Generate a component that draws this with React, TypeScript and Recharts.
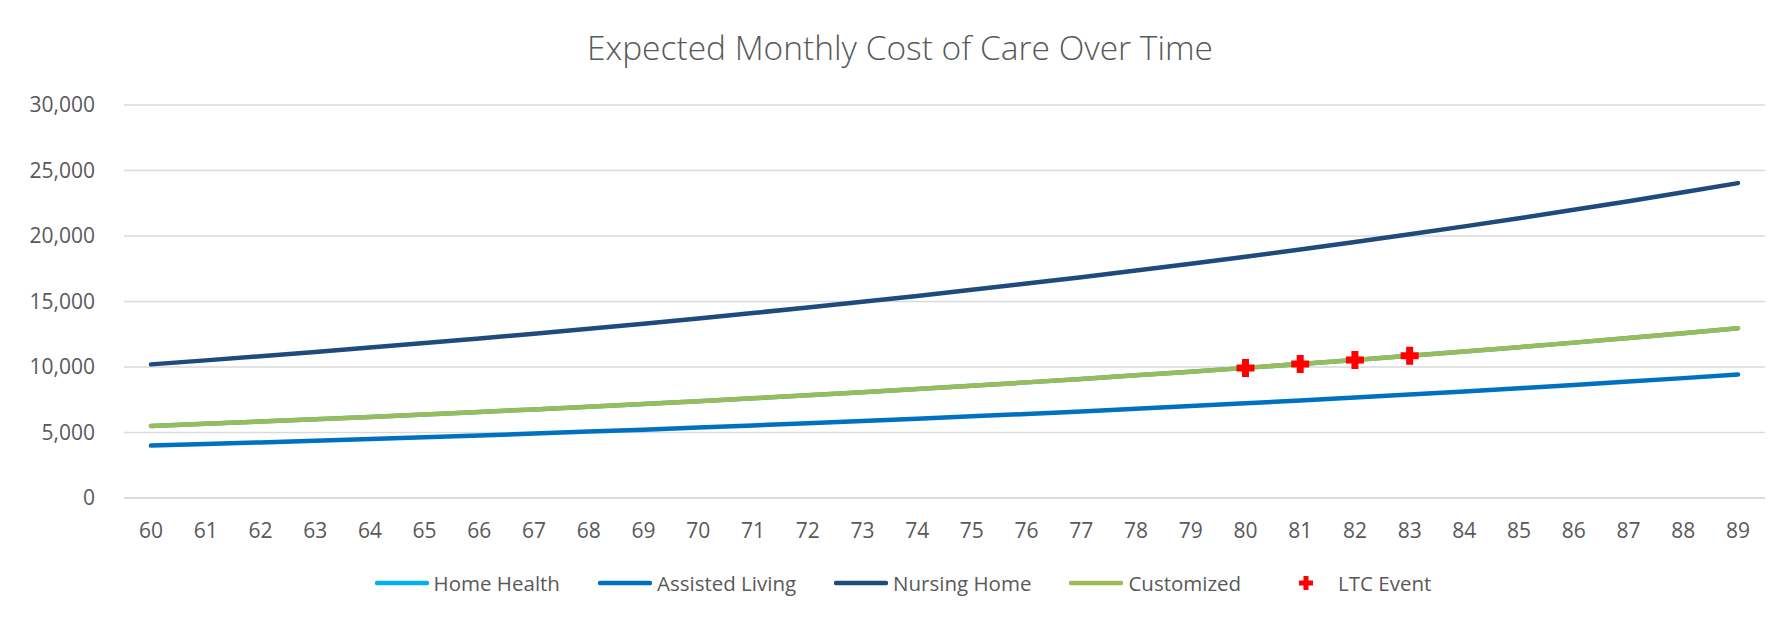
import React from 'react';
import { LineChart, Line, XAxis, YAxis, CartesianGrid, Legend } from 'recharts';

const ages = [
  60, 61, 62, 63, 64, 65, 66, 67, 68, 69, 70, 71, 72, 73, 74,
  75, 76, 77, 78, 79, 80, 81, 82, 83, 84, 85, 86, 87, 88, 89,
];

const homeHealth = [
  5500, 5665, 5835, 6010, 6190, 6376, 6567, 6764, 6967, 7176,
  7392, 7613, 7842, 8077, 8319, 8569, 8826, 9091, 9363, 9644,
  9933, 10231, 10538, 10854, 11180, 11515, 11861, 12217, 12583, 12961,
];

const assistedLiving = [
  4000, 4120, 4244, 4371, 4502, 4637, 4776, 4919, 5067, 5219,
  5376, 5537, 5703, 5874, 6050, 6232, 6419, 6611, 6810, 7014,
  7224, 7441, 7664, 7894, 8131, 8375, 8626, 8885, 9151, 9426,
];

const nursingHome = [
  10200, 10506, 10821, 11146, 11480, 11825, 12179, 12545, 12921, 13309,
  13708, 14119, 14543, 14979, 15428, 15891, 16368, 16859, 17365, 17886,
  18422, 18975, 19544, 20131, 20735, 21357, 21997, 22657, 23337, 24037,
];

const customized = [
  5500, 5665, 5835, 6010, 6190, 6376, 6567, 6764, 6967, 7176,
  7392, 7613, 7842, 8077, 8319, 8569, 8826, 9091, 9363, 9644,
  9933, 10231, 10538, 10854, 11180, 11515, 11861, 12217, 12583, 12961,
];

// LTC event markers sit on the Customized curve at ages 80-83
const ltcEvent: (number | null)[] = [
  null, null, null, null, null, null, null, null, null, null,
  null, null, null, null, null, null, null, null, null, null,
  9933, 10231, 10538, 10854, null, null, null, null, null, null,
];

const yTicks = [0, 5000, 10000, 15000, 20000, 25000, 30000];

const data = ages.map((age, i) => ({
  age,
  homeHealth: homeHealth[i],
  assistedLiving: assistedLiving[i],
  nursingHome: nursingHome[i],
  customized: customized[i],
  ltcEvent: ltcEvent[i],
}));

const TEXT = '#595959';
const GRID = '#d9d9d9';
const FONT = '"Open Sans", sans-serif';

const series = [
  { key: 'homeHealth', name: 'Home Health', color: '#00b0f0' },
  { key: 'assistedLiving', name: 'Assisted Living', color: '#0070c0' },
  { key: 'nursingHome', name: 'Nursing Home', color: '#1f4a7c' },
  { key: 'customized', name: 'Customized', color: '#9bbb59' },
];

function plusPath(cx: number, cy: number, size: number, arm: number) {
  const h = size / 2;
  const a = arm / 2;
  return `M${cx - a},${cy - h}H${cx + a}V${cy - a}H${cx + h}V${cy + a}H${cx + a}V${cy + h}H${cx - a}V${cy + a}H${cx - h}V${cy - a}H${cx - a}Z`;
}

const PlusDot = (props: any) => {
  const { cx, cy, value, index } = props;
  if (value == null || cx == null || cy == null) return <g key={`p-${index}`} />;
  return <path key={`p-${index}`} d={plusPath(cx, cy, 18, 7)} fill="#ff0000" />;
};

const LegendContent = () => (
  <div
    style={{
      display: 'flex',
      justifyContent: 'center',
      alignItems: 'center',
      height: 30,
      paddingLeft: 14,
      gap: 38,
      fontFamily: FONT,
      fontSize: 20.5,
      color: TEXT,
    }}
  >
    {series.map((s) => (
      <div key={s.key} style={{ display: 'flex', alignItems: 'center' }}>
        <svg width={54} height={10} style={{ marginRight: 5 }}>
          <line x1={2} y1={5} x2={52} y2={5} stroke={s.color} strokeWidth={4.5} strokeLinecap="round" />
        </svg>
        <span>{s.name}</span>
      </div>
    ))}
    <div style={{ display: 'flex', alignItems: 'center' }}>
      <svg width={54} height={16} style={{ marginRight: 5 }}>
        <path d={plusPath(27, 8, 14, 5)} fill="#ff0000" />
      </svg>
      <span>LTC Event</span>
    </div>
  </div>
);

export default function App() {
  return (
    <div
      style={{
        position: 'relative',
        width: 1792,
        height: 619,
        margin: -8,
        overflow: 'hidden',
        background: '#fff',
      }}
    >
      {/* chart-area frame; its right and bottom edges fall outside the picture */}
      <div
        style={{
          position: 'absolute',
          left: 6,
          top: 5,
          right: -20,
          bottom: -20,
          borderLeft: `2px solid ${GRID}`,
          borderTop: `2px solid ${GRID}`,
          zIndex: 5,
          pointerEvents: 'none',
        }}
      />
      <div
        style={{
          position: 'absolute',
          top: 24,
          left: 4,
          width: 1792,
          textAlign: 'center',
          fontFamily: FONT,
          fontWeight: 300,
          fontSize: 33.5,
          color: TEXT,
        }}
      >
        Expected Monthly Cost of Care Over Time
      </div>
      <LineChart
        width={1792}
        height={619}
        data={data}
        margin={{ top: 105, right: 27, left: 0, bottom: 21 }}
      >
        <CartesianGrid vertical={false} stroke={GRID} strokeWidth={1.5} />
        <XAxis
          dataKey="age"
          axisLine={{ stroke: GRID, strokeWidth: 1.5 }}
          tickLine={false}
          tickSize={0}
          tickMargin={25}
          height={70}
          interval={0}
          padding={{ left: 27, right: 27 }}
          tick={{ fill: TEXT, fontSize: 21, fontFamily: FONT }}
        />
        <YAxis
          width={124}
          domain={[0, 30000]}
          ticks={yTicks}
          axisLine={false}
          tickLine={false}
          tickSize={0}
          tickMargin={29}
          tickFormatter={(v: number) => v.toLocaleString('en-US')}
          tick={{ fill: TEXT, fontSize: 21, fontFamily: FONT }}
        />
        {series.map((s) => (
          <Line
            key={s.key}
            type="linear"
            dataKey={s.key}
            name={s.name}
            stroke={s.color}
            strokeWidth={4.5}
            strokeLinecap="round"
            dot={false}
            activeDot={false}
            isAnimationActive={false}
          />
        ))}
        <Line
          type="linear"
          dataKey="ltcEvent"
          name="LTC Event"
          stroke="none"
          dot={PlusDot}
          activeDot={false}
          isAnimationActive={false}
        />
        <Legend
          verticalAlign="bottom"
          content={LegendContent}
          wrapperStyle={{ left: 0, width: 1792, bottom: 21 }}
        />
      </LineChart>
    </div>
  );
}
